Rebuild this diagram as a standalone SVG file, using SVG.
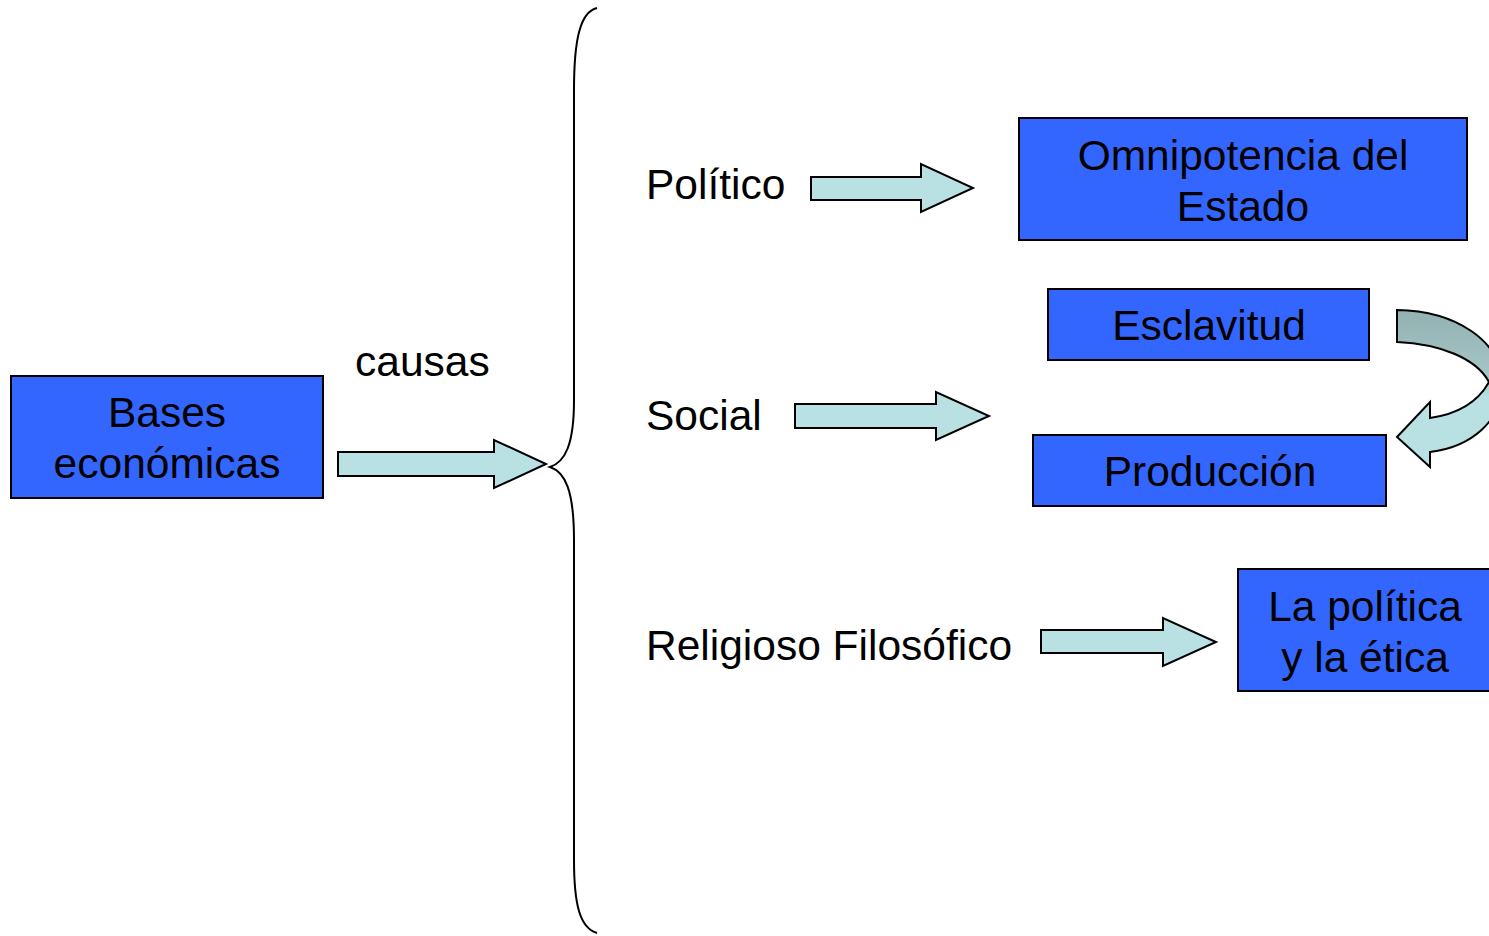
<svg xmlns="http://www.w3.org/2000/svg" width="1489" height="936" viewBox="0 0 1489 936">
<style>
.box{fill:#3366ff;stroke:#000;stroke-width:2}
.t{font-family:"Liberation Sans",Arial,sans-serif;font-size:42.5px;fill:#000}
.c{text-anchor:middle}
.ba{fill:#b9e0e3;stroke:#000;stroke-width:2;stroke-linejoin:miter}
</style>
<defs>
<linearGradient id="g" x1="0" y1="0" x2="0" y2="1">
<stop offset="0" stop-color="#93b1b1"/>
<stop offset="0.45" stop-color="#a6c6c8"/>
<stop offset="0.55" stop-color="#b9e0e3"/>
<stop offset="1" stop-color="#b9e0e3"/>
</linearGradient>
</defs>
<rect width="1489" height="936" fill="#fff"/>
<g id="bases"><rect class="box" x="11" y="376" width="312" height="122"/><text class="t c" x="167" y="427">Bases</text><text class="t c" x="167" y="478">económicas</text></g>
<g id="omnipotencia"><rect class="box" x="1019" y="118" width="448" height="122"/><text class="t c" x="1243" y="170">Omnipotencia del</text><text class="t c" x="1243" y="221">Estado</text></g>
<g id="esclavitud"><rect class="box" x="1048" y="289" width="321" height="71"/><text class="t c" x="1209" y="340">Esclavitud</text></g>
<g id="produccion"><rect class="box" x="1033" y="435" width="353" height="71"/><text class="t c" x="1210" y="486">Producción</text></g>
<g id="etica"><rect class="box" x="1238" y="569" width="260" height="122"/><text class="t c" x="1365" y="621">La política</text><text class="t c" x="1365" y="672">y la ética</text></g>
<g id="labels">
<text class="t" x="355" y="376">causas</text>
<text class="t" x="646" y="199">Político</text>
<text class="t" x="646" y="430">Social</text>
<text class="t" x="646" y="660">Religioso Filosófico</text>
</g>
<g id="connectors">
<path class="ba" d="M338,452 L494,452 L494,440 L546,464 L494,488 L494,476 L338,476 Z"/>
<path class="ba" d="M811,177 L921,177 L921,164 L973,188 L921,212 L921,200 L811,200 Z"/>
<path class="ba" d="M795,404 L936,404 L936,392 L989,416 L936,440 L936,428 L795,428 Z"/>
<path class="ba" d="M1041,630 L1163,630 L1163,618 L1216,642 L1163,666 L1163,653 L1041,653 Z"/>
<path d="M597,8 C580,12 574,40 574,90 L574,400 C574,445 565,462 550,467 C565,472 574,490 574,540 L574,860 C574,905 580,928 597,933" fill="none" stroke="#000" stroke-width="2"/>
<path d="M1397,310 L1397,342 C1440,344 1476,358 1489,382 C1478,402 1458,414 1430,418 L1430,402 L1397,437 L1430,467 L1430,452 C1472,447 1502,420 1502,385 C1502,340 1455,311 1397,310 Z" fill="url(#g)" stroke="#000" stroke-width="2"/>
</g>
</svg>
